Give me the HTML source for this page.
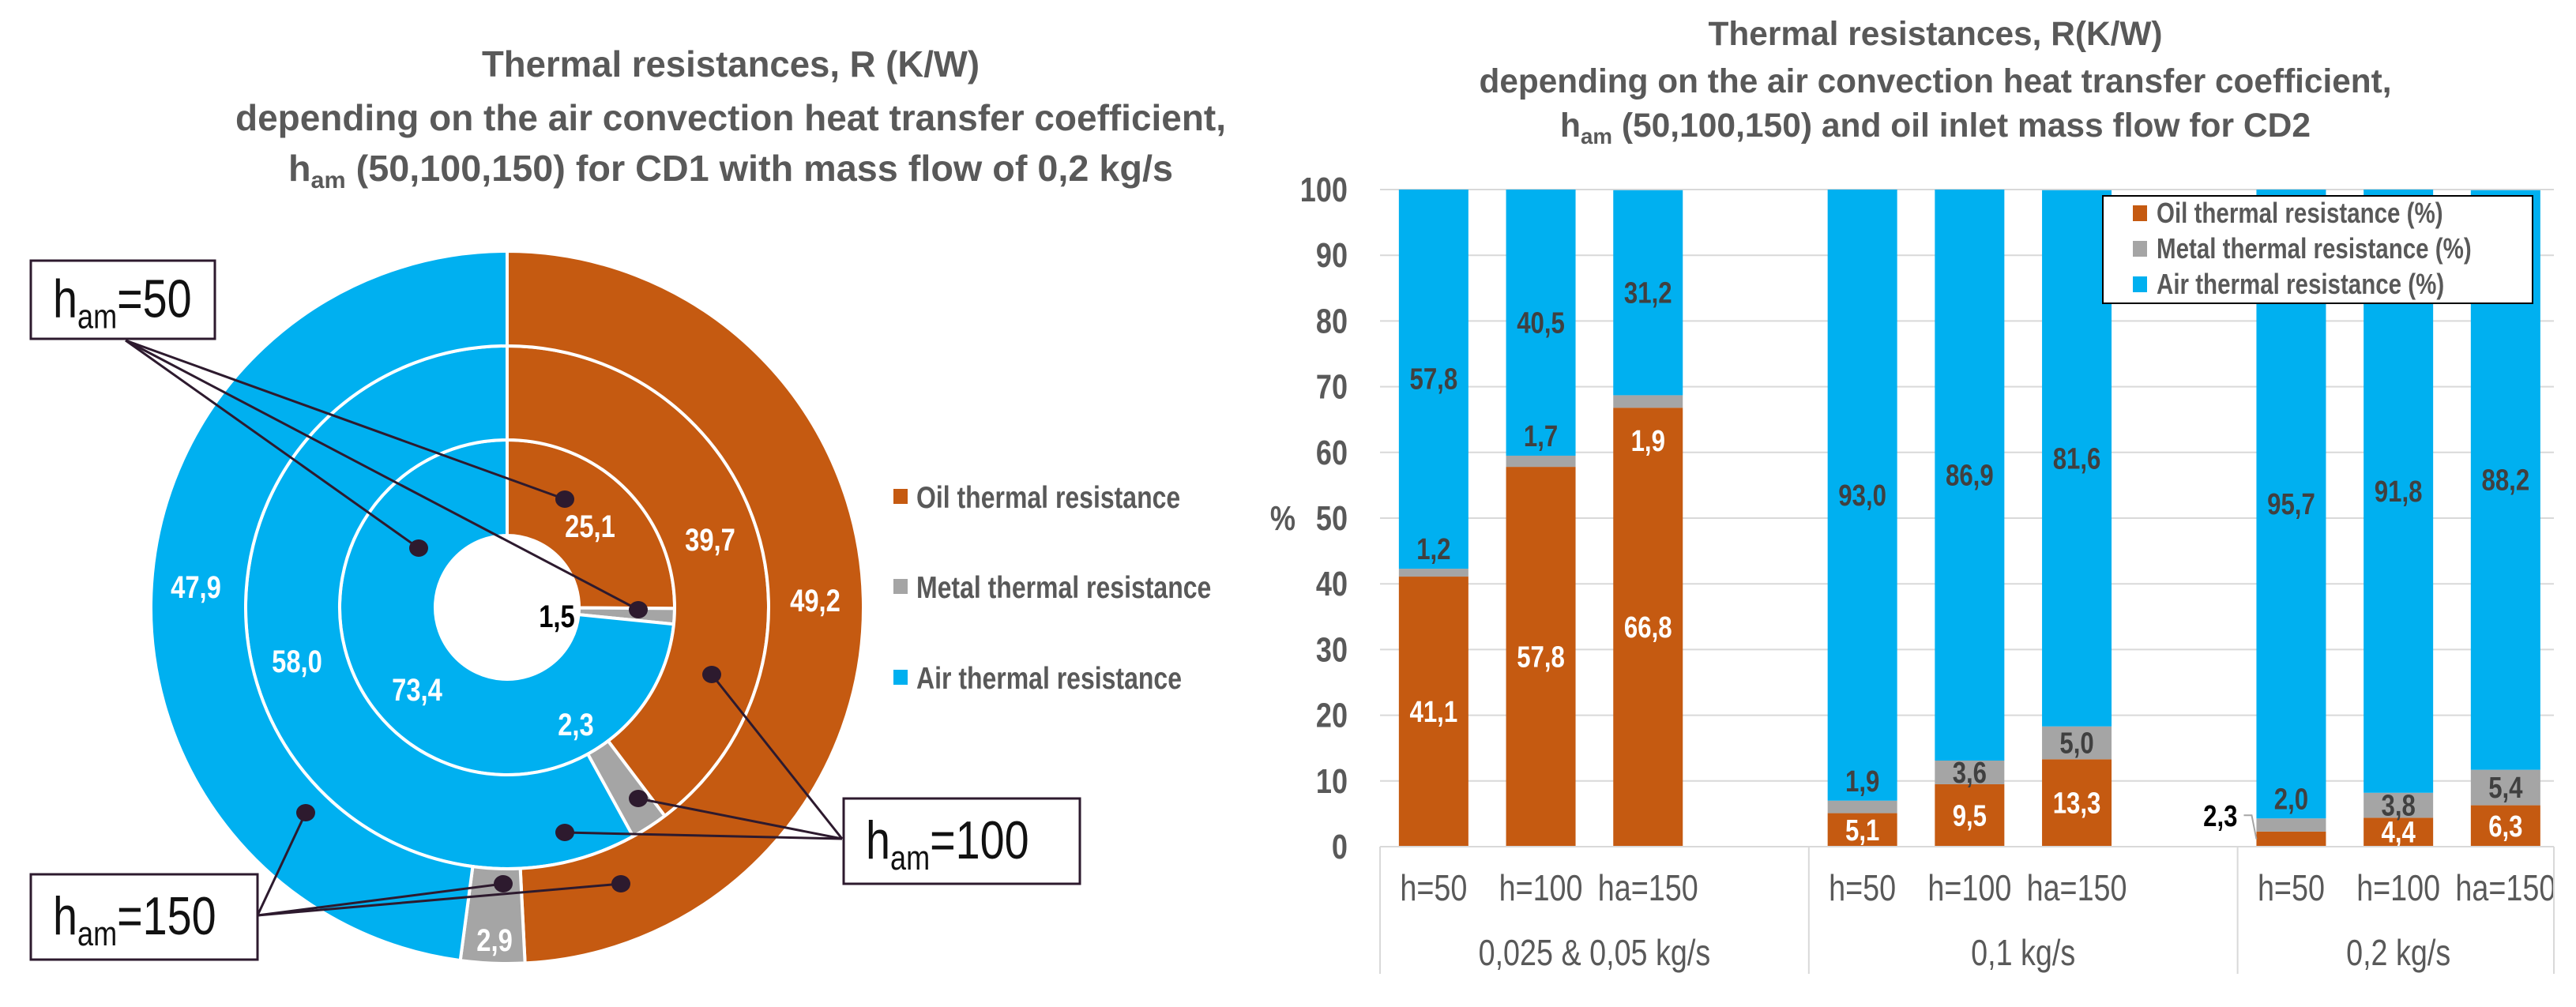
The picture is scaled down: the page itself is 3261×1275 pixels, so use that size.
<!DOCTYPE html>
<html><head><meta charset="utf-8"><style>
html,body{margin:0;padding:0;background:#fff}
svg{display:block;font-family:"Liberation Sans",Arial,sans-serif}
</style></head><body>
<svg id="s" width="3261" height="1275" viewBox="0 0 3261 1275" xmlns="http://www.w3.org/2000/svg">
<g id="left">
<text class="fix" x="925" y="97" text-anchor="middle" font-size="46" font-weight="bold" fill="#595959" textLength="630" lengthAdjust="spacingAndGlyphs">Thermal resistances, R (K/W)</text>
<text class="fix" x="925" y="165" text-anchor="middle" font-size="46" font-weight="bold" fill="#595959" textLength="1254" lengthAdjust="spacingAndGlyphs">depending on the air convection heat transfer coefficient,</text>
<text class="fix" x="925" y="229" text-anchor="middle" font-size="46" font-weight="bold" fill="#595959" textLength="1120" lengthAdjust="spacingAndGlyphs">h<tspan font-size="30" dy="9">am</tspan><tspan dy="-9"> (50,100,150) for CD1 with mass flow of 0,2 kg/s</tspan></text>
<g id="donut"></g>
<g id="dlegend"></g>
<g id="callouts"></g>
</g>
<g id="right">
<text class="fix" x="2450" y="57" text-anchor="middle" font-size="43" font-weight="bold" fill="#595959" textLength="575" lengthAdjust="spacingAndGlyphs">Thermal resistances, R(K/W)</text>
<text class="fix" x="2450" y="117" text-anchor="middle" font-size="43" font-weight="bold" fill="#595959" textLength="1155" lengthAdjust="spacingAndGlyphs">depending on the air convection heat transfer coefficient,</text>
<text class="fix" x="2450" y="173" text-anchor="middle" font-size="43" font-weight="bold" fill="#595959" textLength="950" lengthAdjust="spacingAndGlyphs">h<tspan font-size="28" dy="9">am</tspan><tspan dy="-9"> (50,100,150) and oil inlet mass flow for CD2</tspan></text>
<g id="bars"></g>
</g>
</svg>
<script>
// ---------- donut data ----------
const ringNames = ['h=50','h=100','h=150'];
const ringOil = [25.1, 39.7, 49.2];
const ringMetal = [1.5, 2.3, 2.9];
const ringAir = [73.4, 58.0, 47.9];
// ---------- bar data ----------
const barCats = ['h=50','h=100','ha=150','h=50','h=100','ha=150','h=50','h=100','ha=150'];
const barSlots = [0,1,2,4,5,6,8,9,10];
const groupNames = ['0,025 & 0,05 kg/s','0,1 kg/s','0,2 kg/s'];
const groupSlotRanges = [[0,4],[4,8],[8,11]];
const oilVals = [41.1, 57.8, 66.8, 5.1, 9.5, 13.3, 2.3, 4.4, 6.3];
const metalVals = [1.2, 1.7, 1.9, 1.9, 3.6, 5.0, 2.0, 3.8, 5.4];
const airVals = [57.8, 40.5, 31.2, 93.0, 86.9, 81.6, 95.7, 91.8, 88.2];
const yTicks = [0,10,20,30,40,50,60,70,80,90,100];

const NS='http://www.w3.org/2000/svg';
function mk(tag, attrs, parent, txt){const e=document.createElementNS(NS,tag);for(const k in attrs)e.setAttribute(k,attrs[k]);if(txt!==undefined)e.textContent=txt;parent.appendChild(e);return e;}
const C={oil:'#c55a11',metal:'#a5a5a5',air:'#00b0f0',txt:'#595959'};
const fmt=v=>v.toFixed(1).replace('.',',');

// ---------- donut ----------
const cx=642, cy=769;
const radii=[[91,212],[212,331],[331,451]];
function pt(r,p){const a=p/100*2*Math.PI;return [cx+r*Math.sin(a),cy-r*Math.cos(a)];}
function arc(r0,r1,p0,p1){
  const large=(p1-p0)>50?1:0;
  const a=pt(r1,p0),b=pt(r1,p1),c=pt(r0,p1),d=pt(r0,p0);
  return `M${a[0]},${a[1]}A${r1},${r1} 0 ${large} 1 ${b[0]},${b[1]}L${c[0]},${c[1]}A${r0},${r0} 0 ${large} 0 ${d[0]},${d[1]}Z`;
}
const dg=document.getElementById('donut');
ringNames.forEach((nm,i)=>{
  const vals=[ringOil[i],ringMetal[i],ringAir[i]];
  const tot=vals.reduce((a,b)=>a+b,0);
  const cols=[C.oil,C.metal,C.air];
  const keys=['oil','metal','air'];
  let acc=0;
  vals.forEach((v,j)=>{
    const p0=acc/tot*100, p1=(acc+v)/tot*100; acc+=v;
    const e=mk('path',{d:arc(radii[i][0],radii[i][1],p0,p1),fill:cols[j],stroke:'#fff','stroke-width':4},dg);
    
    
  });
});
function ringLabel(i,j){
  const vals=[ringOil[i],ringMetal[i],ringAir[i]];const tot=vals.reduce((a,b)=>a+b,0);
  let acc=0;for(let k=0;k<j;k++)acc+=vals[k];
  const mid=(acc+vals[j]/2)/tot*100; const rm=(radii[i][0]+radii[i][1])/2;
  return pt(rm,mid);
}
const dl=document.getElementById('donut');
function dlab(x,y,t,col,nm){const e=mk('text',{x:x,y:y,'text-anchor':'middle','font-size':40,'font-weight':'bold',fill:col,class:'sq'},dl,t);}
let p;
dlab(747,680,fmt(ringOil[0]),'#fff','label-ring1-oil');
dlab(899,697,fmt(ringOil[1]),'#fff','label-ring2-oil');
dlab(1032,774,fmt(ringOil[2]),'#fff','label-ring3-oil');
dlab(705,794,fmt(ringMetal[0]),'#000','label-ring1-metal');
dlab(729,931,fmt(ringMetal[1]),'#fff','label-ring2-metal');
p=ringLabel(2,1);dlab(p[0],1204,fmt(ringMetal[2]),'#fff','label-ring3-metal');
dlab(528,887,fmt(ringAir[0]),'#fff','label-ring1-air');
dlab(376,851,fmt(ringAir[1]),'#fff','label-ring2-air');
dlab(248,757,fmt(ringAir[2]),'#fff','label-ring3-air');
// donut legend
const lg=document.getElementById('dlegend');
[['Oil thermal resistance',C.oil,629],['Metal thermal resistance',C.metal,743],['Air thermal resistance',C.air,858]].forEach(([t,c,y],i)=>{
  const r=mk('rect',{x:1131,y:y-10,width:18,height:19,fill:c},lg);
  
  const e=mk('text',{x:1160,y:y+14,'font-size':39,'font-weight':'bold',fill:C.txt,class:'sq'},lg,t);
  
});
// callouts
const cg=document.getElementById('callouts');
const lc='#2d1a2e';
function line(x1,y1,x2,y2){const l=mk('line',{x1,y1,x2,y2,stroke:lc,'stroke-width':3},cg);}
function dot(x,y){const d=mk('ellipse',{cx:x,cy:y,rx:12,ry:11,fill:lc},cg);}
[[715,632],[530,694],[808,772]].forEach(d=>line(159,431,d[0],d[1]));
[[901,854],[808,1011],[715,1054]].forEach(d=>line(1066,1062,d[0],d[1]));
[[387,1029],[637,1119],[786,1119]].forEach(d=>line(326,1159,d[0],d[1]));
[[715,632],[530,694],[808,772],[901,854],[808,1011],[715,1054],[387,1029],[637,1119],[786,1119]].forEach(d=>dot(d[0],d[1]));
function box(x,y,w,h,val,nm){
  const r=mk('rect',{x,y,width:w,height:h,fill:'#fff',stroke:lc,'stroke-width':3},cg);
  
  const t=mk('text',{x:x+28,y:y+h/2+22,'font-size':68,fill:'#111',class:'sq'},cg);
  
  t.innerHTML='h<tspan font-size="44" dy="14">am</tspan><tspan dy="-14">='+val+'</tspan>';
}
box(39,330,233,99,'50','callout-h50');
box(1068,1011,299,108,'100','callout-h100');
box(39,1107,287,108,'150','callout-h150');

// ---------- bar chart ----------
const bg=document.getElementById('bars');
const X0=1747, SLOT=135.7, Y0=1072, Y100=240, BW=88;
const y=v=>Y0-(v/100)*(Y0-Y100);
const xs=s=>X0+(s+0.5)*SLOT;
yTicks.forEach(t=>{
  if(t>0){const g=mk('line',{x1:X0,x2:3233,y1:y(t),y2:y(t),stroke:'#d9d9d9','stroke-width':2},bg);}
  const e=mk('text',{x:1706,y:y(t)+15,'text-anchor':'end','font-size':44,'font-weight':'bold',fill:C.txt,class:'sq'},bg,String(t));
  
});
let ya=mk('text',{x:1640,y:y(50)+15,'text-anchor':'end','font-size':44,'font-weight':'bold',fill:C.txt,class:'sq'},bg,'%');

barCats.forEach((c,i)=>{
  const cxm=xs(barSlots[i]), x=cxm-BW/2;
  const o=oilVals[i], m=metalVals[i], a=Math.min(airVals[i],100-o-m);
  const segs=[[0,o,C.oil,'oil'],[o,o+m,C.metal,'metal'],[o+m,o+m+a,C.air,'air']];
  segs.forEach(([s0,s1,col,k])=>{
    const r=mk('rect',{x:x,y:y(s1),width:BW,height:y(s0)-y(s1),fill:col},bg);
    
  });
  let t;
  if(o<3){t=mk('text',{x:x-24,y:y(o+m)+10,'text-anchor':'end','font-size':38,'font-weight':'bold',fill:'#000',class:'sq'},bg,fmt(o));
    mk('path',{d:`M${x-16},${y(o+m)-4}h10l6,${y(o/2)-y(o+m)+4}`,fill:'none',stroke:'#a5a5a5','stroke-width':2},bg);}
  else t=mk('text',{x:cxm,y:y(o/2)+13,'text-anchor':'middle','font-size':38,'font-weight':'bold',fill:'#fff',class:'sq'},bg,fmt(o));
  
  let my;
  if(m>=3) my=y(o+m/2)+13; else if(o>60) my=y(o-5)+13; else my=y(o+m+3)+13;
  t=mk('text',{x:cxm,y:my,'text-anchor':'middle','font-size':38,'font-weight':'bold',fill:(m<3&&o>60)?'#fff':'#404040',class:'sq'},bg,fmt(m));
  
  t=mk('text',{x:cxm,y:y(o+m+airVals[i]/2)+13,'text-anchor':'middle','font-size':38,'font-weight':'bold',fill:'#404040',class:'sq'},bg,fmt(airVals[i]));
  
  t=mk('text',{x:cxm,y:1140,'text-anchor':'middle','font-size':46,fill:C.txt,class:'sq'},bg,c);
  
});
let ax=mk('line',{x1:X0,x2:3233,y1:Y0,y2:Y0,stroke:'#d9d9d9','stroke-width':2},bg);

groupNames.forEach((g,i)=>{
  const [s0,s1]=groupSlotRanges[i];
  const l=mk('line',{x1:X0+s0*SLOT,x2:X0+s0*SLOT,y1:Y0,y2:1233,stroke:'#d9d9d9','stroke-width':2},bg);
  
  const cxm=X0+(s0+s1)/2*SLOT;
  const t=mk('text',{x:cxm,y:1222,'text-anchor':'middle','font-size':46,fill:C.txt,class:'sq'},bg,g);
  
});
let rl=mk('line',{x1:3233,x2:3233,y1:Y0,y2:1233,stroke:'#d9d9d9','stroke-width':2},bg);

const lb=mk('rect',{x:2662,y:248,width:544,height:136,fill:'#fff',stroke:'#000','stroke-width':2},bg);

[['Oil thermal resistance (%)',C.oil,270],['Metal thermal resistance (%)',C.metal,315],['Air thermal resistance (%)',C.air,360]].forEach(([t,c,yy],i)=>{
  const r=mk('rect',{x:2700,y:yy-10,width:18,height:20,fill:c},bg);
  
  const e=mk('text',{x:2730,y:yy+12,'font-size':36,'font-weight':'bold',fill:C.txt,class:'sq'},bg,t);
  
});
// narrow Liberation glyphs to approximate the reference's condensed face
document.querySelectorAll('text.sq').forEach(t=>{
  const L=t.getComputedTextLength();
  if(L>0){t.setAttribute('textLength',(L*0.82).toFixed(1));t.setAttribute('lengthAdjust','spacingAndGlyphs');}
});
</script>
</body></html>
